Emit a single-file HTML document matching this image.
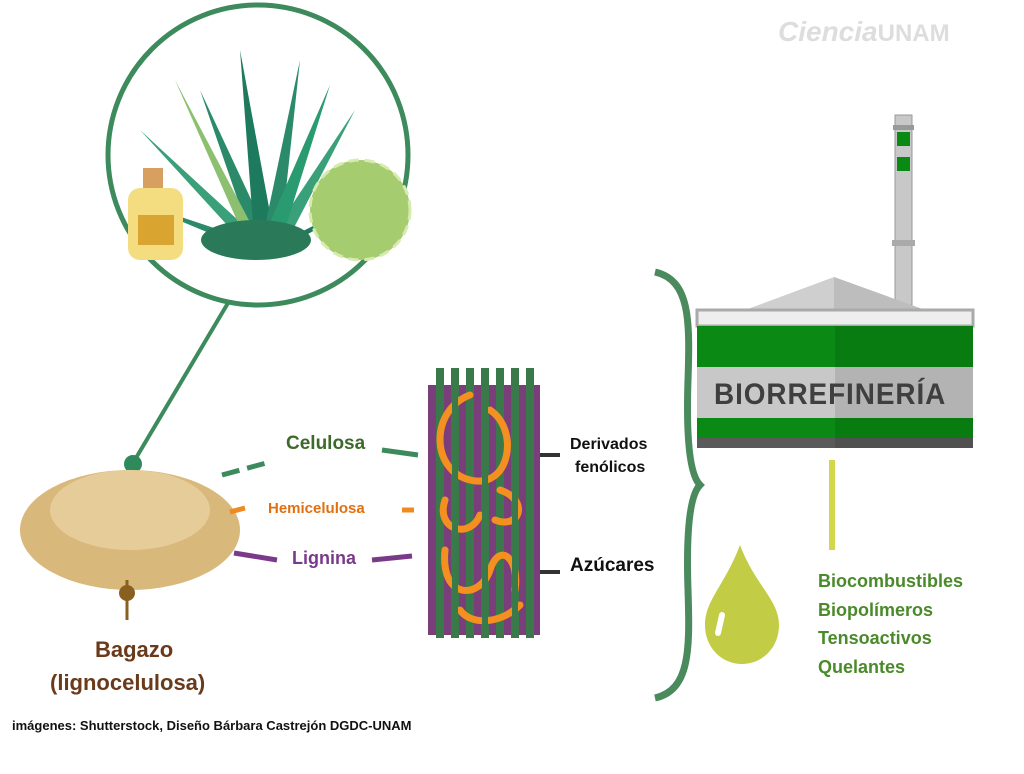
<!DOCTYPE html>
<html><head><meta charset="utf-8"><style>
body{margin:0;width:1024px;height:774px;background:#fff;overflow:hidden;position:relative;font-family:"Liberation Sans",sans-serif}
.t{position:absolute;font-weight:bold;white-space:nowrap}
</style></head><body>
<svg width="1024" height="774" style="position:absolute;left:0;top:0">
<circle cx="258" cy="155" r="150" fill="#fff" stroke="#3d8a5c" stroke-width="5"/>
<line x1="228" y1="303" x2="133" y2="463" stroke="#3d8a5c" stroke-width="4"/>
<circle cx="133" cy="464" r="9" fill="#2e8a5a"/>
<g fill="#2a8a6a">
<polygon points="255,250 200,90 270,240"/><polygon points="255,250 240,50 275,240" fill="#1d7a5c"/>
<polygon points="260,250 300,60 280,245"/><polygon points="262,250 355,110 285,245" fill="#3aa07a"/>
<polygon points="250,250 140,130 265,245" fill="#3aa07a"/><polygon points="250,250 130,200 265,245"/>
<polygon points="265,250 385,190 280,250" fill="#1d7a5c"/><polygon points="250,250 175,80 262,245" fill="#8cc070"/>
<polygon points="258,250 330,85 280,245" fill="#2a9a70"/>
</g>
<ellipse cx="256" cy="240" rx="55" ry="20" fill="#2a7a5a"/>
<rect x="143" y="168" width="20" height="20" fill="#d8a060"/>
<rect x="128" y="188" width="55" height="72" rx="12" fill="#f3dd80"/>
<rect x="138" y="215" width="36" height="30" fill="#d9a530"/>
<circle cx="360" cy="210" r="50" fill="#a6cc70"/>
<circle cx="360" cy="210" r="50" fill="none" stroke="#d7ebb0" stroke-width="3" stroke-dasharray="10 6"/>
<ellipse cx="130" cy="530" rx="110" ry="60" fill="#d9b87c"/>
<ellipse cx="130" cy="510" rx="80" ry="40" fill="#e6cc98"/>
<line x1="127" y1="580" x2="127" y2="620" stroke="#8a6020" stroke-width="3"/>
<circle cx="127" cy="593" r="8" fill="#8a6020"/>
<g stroke-width="5" fill="none">
<path d="M222 475 L270 462" stroke="#3d8a5c" stroke-dasharray="18 8"/>
<path d="M382 450 L418 455" stroke="#3d8a5c"/>
<path d="M230 512 L245 508" stroke="#f08a20"/><path d="M402 510 L414 510" stroke="#f08a20"/>
<path d="M234 553 L277 560" stroke="#7a3a8a"/><path d="M372 560 L412 556" stroke="#7a3a8a"/>
<path d="M538 455 L560 455" stroke="#333" stroke-width="4"/>
<path d="M538 572 L560 572" stroke="#333" stroke-width="4"/>
</g>
<rect x="428" y="385" width="112" height="250" fill="#7a3f7a"/>
<g fill="#3a7a4a">
<rect x="436" y="368" width="8" height="270"/><rect x="451" y="368" width="8" height="270"/><rect x="466" y="368" width="8" height="270"/><rect x="481" y="368" width="8" height="270"/><rect x="496" y="368" width="8" height="270"/><rect x="511" y="368" width="8" height="270"/><rect x="526" y="368" width="8" height="270"/>
</g>
<g stroke="#f39020" stroke-width="7" fill="none" stroke-linecap="round">
<path d="M470 395 C430 410 430 470 470 480 C510 490 520 430 490 410"/>
<path d="M445 500 C435 530 470 540 480 515 M500 490 C530 500 520 530 495 520"/>
<path d="M445 550 C440 600 480 600 490 570 C500 540 520 560 515 590"/>
<path d="M460 610 C470 625 500 625 520 605"/>
</g>
<g stroke="#3a7a4a" stroke-width="6"><line x1="455" y1="380" x2="455" y2="635"/><line x1="485" y1="380" x2="485" y2="635"/><line x1="515" y1="380" x2="515" y2="635"/></g>
<path d="M655 272 C690 280 690 320 688 380 C686 440 690 475 700 485 C690 495 686 530 688 590 C690 650 690 690 655 698" stroke="#4a8a5c" stroke-width="7" fill="none"/>
<rect x="895" y="115" width="17" height="190" fill="#c8c8c8" stroke="#999" stroke-width="1"/>
<rect x="893" y="125" width="21" height="5" fill="#999"/>
<rect x="897" y="132" width="13" height="14" fill="#0a8a14"/>
<rect x="897" y="157" width="13" height="14" fill="#0a8a14"/>
<rect x="892" y="240" width="23" height="6" fill="#aaa"/>
<polygon points="745,310 834,277 925,310" fill="#cfcfcf"/>
<polygon points="834,277 925,310 834,310" fill="#bdbdbd"/>
<rect x="697" y="310" width="276" height="16" fill="#eee" stroke="#aaa" stroke-width="3"/>
<rect x="697" y="326" width="276" height="41" fill="#0a8a14"/>
<rect x="697" y="367" width="276" height="51" fill="#c8c8c8"/>
<rect x="697" y="418" width="276" height="20" fill="#0a8a14"/>
<rect x="697" y="438" width="276" height="10" fill="#5a5a5a"/>
<rect x="835" y="326" width="138" height="122" fill="#000" opacity="0.1"/>
<line x1="832" y1="460" x2="832" y2="550" stroke="#d3d84a" stroke-width="6"/>
<path d="M740 545 C725 585 705 600 705 625 C705 648 722 664 742 664 C762 664 779 648 779 625 C779 600 755 585 740 545 Z" fill="#c2cc45"/>
<line x1="722" y1="615" x2="718" y2="633" stroke="#fff" stroke-width="6" stroke-linecap="round"/>
</svg>
<div class="t" style="left:778px;top:16px;font-size:28px;color:#ddd;font-style:italic">Ciencia<span style="font-style:normal;font-size:24px">UNAM</span></div>
<div class="t" style="left:714px;top:378px;font-size:30px;color:#3f3f3f;letter-spacing:1px;transform:scaleX(0.93);transform-origin:left">BIORREFINERÍA</div>
<div class="t" style="left:286px;top:433px;font-size:19px;color:#3d6a2a">Celulosa</div>
<div class="t" style="left:268px;top:500px;font-size:15px;color:#e07010">Hemicelulosa</div>
<div class="t" style="left:292px;top:548px;font-size:18px;color:#7a3a8a">Lignina</div>
<div class="t" style="left:570px;top:433px;font-size:16px;color:#111;line-height:23px">Derivados</div>
<div class="t" style="left:575px;top:456px;font-size:16px;color:#111;line-height:23px">fenólicos</div>
<div class="t" style="left:570px;top:555px;font-size:19px;color:#111">Azúcares</div>
<div class="t" style="left:818px;top:567px;font-size:18px;color:#4a8a2a;line-height:28.5px">Biocombustibles<br>Biopolímeros<br>Tensoactivos<br>Quelantes</div>
<div class="t" style="left:95px;top:633px;font-size:22px;color:#6a3a1a;line-height:33px">Bagazo</div>
<div class="t" style="left:50px;top:666px;font-size:22px;color:#6a3a1a;line-height:33px">(lignocelulosa)</div>
<div class="t" style="left:12px;top:718px;font-size:13px;color:#111">imágenes: Shutterstock, Diseño Bárbara Castrejón DGDC-UNAM</div>
</body></html>
